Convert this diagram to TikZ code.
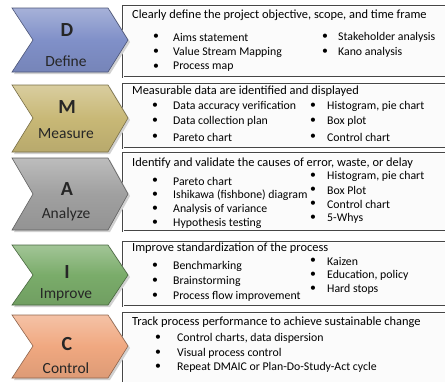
\documentclass[tikz,border=0pt]{standalone}
\usepackage{fontspec}
\setmainfont{Carlito}
\usetikzlibrary{positioning}

\definecolor{dblue}{RGB}{128,144,200}
\definecolor{mkhaki}{RGB}{200,184,118}
\definecolor{agray}{RGB}{160,160,160}
\definecolor{igreen}{RGB}{122,172,106}
\definecolor{csalmon}{RGB}{240,168,128}

\tikzset{
    chev/.style={top color=#1!70!white, bottom color=#1!92!black, middle color=#1, draw=#1!60!black, line width=0.6pt},
    chevshade/.style={fill=black!18, draw=none, shift={(2,2)}},
    panel/.style={draw=gray!55!black, line width=0.4pt, double=white, double distance=0.7pt, fill=gray!3},
    letter/.style={font=\fontsize{20}{22}\selectfont\bfseries, text=black!85},
    phase/.style={font=\fontsize{15.5}{17}\selectfont, text=black!85},
    hd/.style={anchor=west, inner sep=0pt, font=\fontsize{12.4}{13}\selectfont},
    itm/.style={anchor=west, inner sep=0pt, font=\fontsize{11.8}{13}\selectfont},
    dot/.style={inner sep=0pt, font=\fontsize{11.8}{13}\selectfont}
}

\begin{document}
\begin{tikzpicture}[x=1pt, y=-1pt]
    \useasboundingbox (0,0) rectangle (445,381);

    % Define
    \draw[panel] (123,6) rectangle (450,77);
    \fill[chevshade] (12,8) -- (108,8) -- (128,40) -- (108,72) -- (12,72) -- (33,40) -- cycle;
    \draw[chev=dblue] (12,8) -- (108,8) -- (128,40) -- (108,72) -- (12,72) -- (33,40) -- cycle;
    \node[letter] (dL) at (67,30) {D};
    \node[phase] (dP) at (66,61) {Define};
    \node[hd] (dH) at (132,15) {Clearly define the project objective, scope, and time frame};
    \node[dot] at (156,37) {\textbullet}; \node[itm] at (173,37) {Aims statement};
    \node[dot] at (156,52) {\textbullet}; \node[itm] at (173,52) {Value Stream Mapping};
    \node[dot] at (156,67) {\textbullet}; \node[itm] at (173,67) {Process map};
    \node[dot] at (325,37) {\textbullet}; \node[itm] at (338,37) {Stakeholder analysis};
    \node[dot] at (325,52) {\textbullet}; \node[itm] at (338,52) {Kano analysis};

    % Measure
    \draw[panel] (123,84) rectangle (450,148);
    \fill[chevshade] (12,85) -- (108,85) -- (128,118) -- (108,152) -- (12,152) -- (33,118) -- cycle;
    \draw[chev=mkhaki] (12,85) -- (108,85) -- (128,118) -- (108,152) -- (12,152) -- (33,118) -- cycle;
    \node[letter] (mL) at (67,107) {M};
    \node[phase] (mP) at (66,134) {Measure};
    \node[hd] (mH) at (132,91) {Measurable data are identified and displayed};
    \node[dot] at (155,106) {\textbullet}; \node[itm] at (173,106) {Data accuracy verification};
    \node[dot] at (155,121) {\textbullet}; \node[itm] at (173,121) {Data collection plan};
    \node[dot] at (155,137) {\textbullet}; \node[itm] at (173,137) {Pareto chart};
    \node[dot] at (313,106) {\textbullet}; \node[itm] at (327,106) {Histogram, pie chart};
    \node[dot] at (313,121) {\textbullet}; \node[itm] at (327,121) {Box plot};
    \node[dot] at (313,137) {\textbullet}; \node[itm] at (327,137) {Control chart};

    % Analyze
    \draw[panel] (123,153) rectangle (450,231);
    \fill[chevshade] (12,158) -- (108,158) -- (128,194) -- (108,230) -- (12,230) -- (33,194) -- cycle;
    \draw[chev=agray] (12,158) -- (108,158) -- (128,194) -- (108,230) -- (12,230) -- (33,194) -- cycle;
    \node[letter] (aL) at (67,189) {A};
    \node[phase] (aP) at (66,214) {Analyze};
    \node[hd] (aH) at (132,163) {Identify and validate the causes of error, waste, or delay};
    \node[dot] at (155,181) {\textbullet}; \node[itm] at (173,181) {Pareto chart};
    \node[dot] at (155,195) {\textbullet}; \node[itm] at (173,195) {Ishikawa (fishbone) diagram};
    \node[dot] at (155,209) {\textbullet}; \node[itm] at (173,209) {Analysis of variance};
    \node[dot] at (155,223) {\textbullet}; \node[itm] at (173,223) {Hypothesis testing};
    \node[dot] at (313,176) {\textbullet}; \node[itm] at (327,176) {Histogram, pie chart};
    \node[dot] at (313,190) {\textbullet}; \node[itm] at (327,190) {Box Plot};
    \node[dot] at (313,204) {\textbullet}; \node[itm] at (327,204) {Control chart};
    \node[dot] at (313,218) {\textbullet}; \node[itm] at (327,218) {5-Whys};

    % Improve
    \draw[panel] (123,242) rectangle (450,306);
    \fill[chevshade] (12,245) -- (108,245) -- (128,275) -- (108,305) -- (12,305) -- (33,275) -- cycle;
    \draw[chev=igreen] (12,245) -- (108,245) -- (128,275) -- (108,305) -- (12,305) -- (33,275) -- cycle;
    \node[letter] (iL) at (67,272) {I};
    \node[phase] (iP) at (66,295) {Improve};
    \node[hd] (iH) at (132,248) {Improve standardization of the process};
    \node[dot] at (155,266) {\textbullet}; \node[itm] at (173,266) {Benchmarking};
    \node[dot] at (155,281) {\textbullet}; \node[itm] at (173,281) {Brainstorming};
    \node[dot] at (155,296) {\textbullet}; \node[itm] at (173,296) {Process flow improvement};
    \node[dot] at (313,261) {\textbullet}; \node[itm] at (327,261) {Kaizen};
    \node[dot] at (313,275) {\textbullet}; \node[itm] at (327,275) {Education, policy};
    \node[dot] at (313,289) {\textbullet}; \node[itm] at (327,289) {Hard stops};

    % Control
    \draw[panel] (123,313) rectangle (450,386);
    \fill[chevshade] (12,315) -- (108,315) -- (128,346) -- (108,378) -- (12,378) -- (33,346) -- cycle;
    \draw[chev=csalmon] (12,315) -- (108,315) -- (128,346) -- (108,378) -- (12,378) -- (33,346) -- cycle;
    \node[letter] (cL) at (67,344) {C};
    \node[phase] (cP) at (66,368) {Control};
    \node[hd] (cH) at (132,322) {Track process performance to achieve sustainable change};
    \node[dot] at (158,338) {\textbullet}; \node[itm] at (177,338) {Control charts, data dispersion};
    \node[dot] at (158,353) {\textbullet}; \node[itm] at (177,353) {Visual process control};
    \node[dot] at (158,367) {\textbullet}; \node[itm] at (177,367) {Repeat DMAIC or Plan-Do-Study-Act cycle};
\end{tikzpicture}
\end{document}
